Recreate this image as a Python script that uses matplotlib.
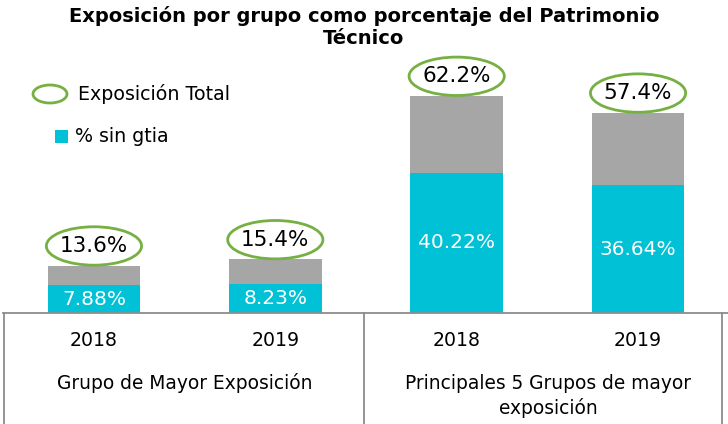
import matplotlib.pyplot as plt
from matplotlib.patches import Ellipse, Rectangle
from matplotlib.lines import Line2D

years = ["2018", "2019", "2018", "2019"]
groups = ["Grupo de Mayor Exposición", "Principales 5 Grupos de mayor\nexposición"]
total = [13.6, 15.4, 62.2, 57.4]
sin_gtia = [7.88, 8.23, 40.22, 36.64]

teal = "#00C1D5"
grey = "#A6A6A6"
green = "#76B043"
linec = "#8C8C8C"

fig = plt.figure(figsize=(7.28, 4.24), dpi=100)
ax = fig.add_axes([0, (424 - 313) / 424, 1, (313 - 55) / 424])
ax.set_xlim(-0.518, 3.496)
ax.set_ylim(0, 73.9)
ax.axis("off")

x = list(range(len(total)))
rest = [t - s for t, s in zip(total, sin_gtia)]
ax.bar(x, sin_gtia, width=0.51, color=teal)
ax.bar(x, rest, width=0.51, bottom=sin_gtia, color=grey)

for i in x:
    ax.text(i, sin_gtia[i] / 2, f"{sin_gtia[i]:.2f}%", ha="center", va="center",
            color="white", fontsize=14.5)
    ax.add_patch(Ellipse((i, total[i] + 5.6), 0.525, 11, fc="white", ec=green, lw=2))
    ax.text(i, total[i] + 5.6, f"{total[i]:.1f}%", ha="center", va="center",
            color="black", fontsize=15.5)

# category table lines
for xs, ys in [((3 / 728, 1), (111 / 424, 111 / 424)),
               ((4 / 728, 4 / 728), (0, 111 / 424)),
               ((364 / 728, 364 / 728), (0, 111 / 424)),
               ((722 / 728, 722 / 728), (0, 111 / 424))]:
    fig.add_artist(Line2D(xs, ys, color=linec, lw=1.3))

for i, yr in enumerate(years):
    fig.text((94 + i * 181.3) / 728, 1 - 340 / 424, yr, ha="center", va="center", fontsize=13.6)
fig.text(185 / 728, 1 - 383 / 424, groups[0], ha="center", va="center", fontsize=13.4)
fig.text(548 / 728, 1 - 396 / 424, groups[1], ha="center", va="center", fontsize=13.4,
         linespacing=1.3)

# legend
fig.add_artist(Ellipse((50 / 728, 1 - 94 / 424), 34 / 728, 18 / 424, fc="white", ec=green,
                       lw=2, transform=fig.transFigure))
fig.text(78 / 728, 1 - 94 / 424, "Exposición Total", ha="left", va="center", fontsize=13.7)
fig.add_artist(Rectangle((55 / 728, 1 - 143 / 424), 13 / 728, 13 / 424, fc=teal, ec="none",
                         transform=fig.transFigure))
fig.text(75 / 728, 1 - 137 / 424, "% sin gtia", ha="left", va="center", fontsize=13.7)

fig.text(0.5, 1 - 27 / 424, "Exposición por grupo como porcentaje del Patrimonio\nTécnico",
         ha="center", va="center", fontsize=14, fontweight="bold", linespacing=1.2)

fig.savefig("out.png", dpi=100)
